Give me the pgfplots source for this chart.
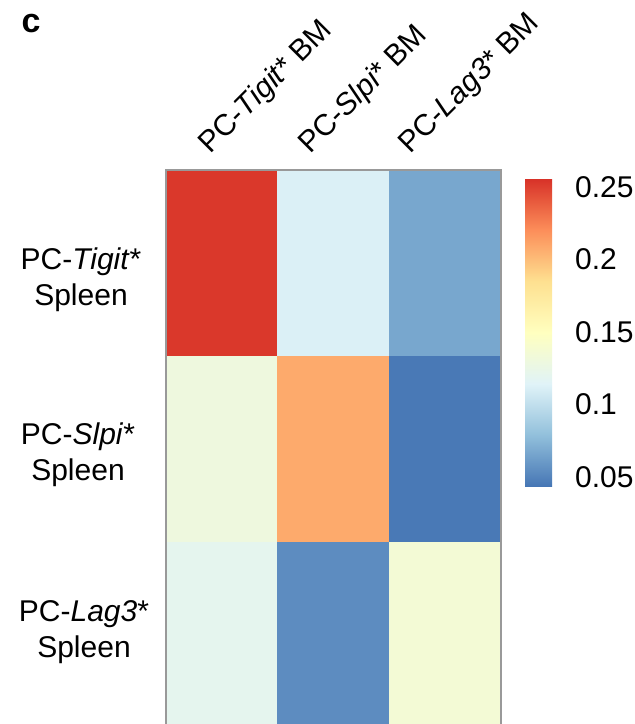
\documentclass[border=0pt]{standalone}
\usepackage{pgfplots}
\pgfplotsset{compat=1.18}
\usepackage{fontspec}
\setmainfont{Liberation Sans}
\definecolor{grey60}{RGB}{153,153,153}
\newcommand\lbl{\fontsize{15}{18}\selectfont}

\begin{document}
\begin{tikzpicture}[x=1pt,y=1pt]
\useasboundingbox (0pt,0pt) rectangle (317pt,362pt);
\begin{axis}[
  at={(83pt,-2pt)}, anchor=south west,
  scale only axis, width=167.5pt, height=279pt,
  xmin=-0.5, xmax=2.5, ymin=-0.5, ymax=2.5, y dir=reverse,
  xtick=\empty, ytick=\empty,
  minor xtick={0.5,1.5}, minor ytick={0.5,1.5},
  minor tick length=0pt,
  grid=minor, minor grid style={grey60, line width=1pt},
  axis line style={grey60, line width=1pt},
  axis on top,
  colormap={rdylbu}{rgb255=(69,117,180) rgb255=(145,191,219) rgb255=(224,243,248)
    rgb255=(255,255,191) rgb255=(254,224,144) rgb255=(252,141,89) rgb255=(215,48,39)},
  point meta min=0.043, point meta max=0.256,
  colorbar right,
  colorbar style={
    at={(parent axis.north east)}, anchor=north west,
    xshift=3.5pt, yshift=-4pt,
    scale only axis, width=13.5pt, height=154.5pt,
    ytick={0.05,0.1,0.15,0.2,0.25},
    yticklabels={0.05,0.1,0.15,0.2,0.25},
    major tick length=0pt,
    axis line style={draw=none},
    tick style={draw=none},
    yticklabel style={font=\lbl, xshift=8pt},
  },
]
\addplot[matrix plot*, mesh/cols=3, point meta=explicit] table[meta=v] {
x y v
0 0 0.253
1 0 0.112
2 0 0.067
0 1 0.130
1 1 0.208
2 1 0.045
0 2 0.120
1 2 0.054
2 2 0.136
};
\end{axis}
% column labels
\node[rotate=45, anchor=base west, font=\lbl, inner sep=0pt] at (105pt,284.5pt) {PC-\textit{Tigit}* BM};
\node[rotate=45, anchor=base west, font=\lbl, inner sep=0pt] at (155pt,284.5pt) {PC-\textit{Slpi}* BM};
\node[rotate=45, anchor=base west, font=\lbl, inner sep=0pt] at (205pt,284.5pt) {PC-\textit{Lag3}* BM};
% row labels
\node[align=center, font=\lbl] at (40.5pt,222pt) {PC-\textit{Tigit}*\\Spleen};
\node[align=center, font=\lbl] at (39pt,134.5pt) {PC-\textit{Slpi}*\\Spleen};
\node[align=center, font=\lbl] at (42pt,46pt) {PC-\textit{Lag3}*\\Spleen};
% panel letter
\node[font=\fontsize{17}{20}\selectfont\bfseries] at (15.5pt,350pt) {c};
\end{tikzpicture}
\end{document}
